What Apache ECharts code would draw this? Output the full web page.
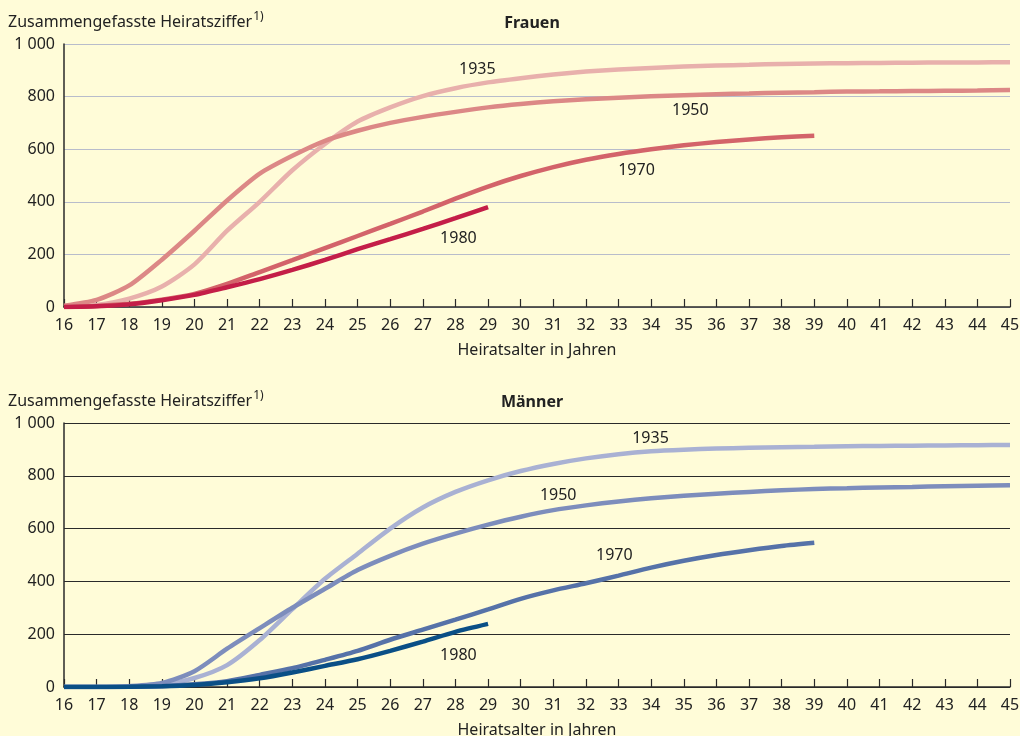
<!DOCTYPE html>
<html>
<head>
<meta charset="utf-8">
<script src="https://cdn.jsdelivr.net/npm/echarts@6/dist/echarts.min.js"></script>
<style>
html,body{margin:0;padding:0;background:#fffcd8;}
#chart{width:1020px;height:736px;}
</style>
</head>
<body>
<div id="chart"></div>
<script>
// ---- data ----
const ages = [16,17,18,19,20,21,22,23,24,25,26,27,28,29,30,31,32,33,34,35,36,37,38,39,40,41,42,43,44,45];
const yTicks = [0,200,400,600,800,1000];
const cohorts = ['1935','1950','1970','1980'];

const frauen1935 = [0,8,32,78,162,290,400,520,620,705,759,802,832,854,870,884,895,903,909,914,918,921,924,926,927,928,929,930,930,931];
const frauen1950 = [5,27,82,180,290,405,507,575,632,670,700,723,742,759,772,782,790,796,801,805,809,812,815,817,819,820,821,822,823,825];
const frauen1970 = [0,4,12,28,50,88,133,178,224,270,316,363,412,458,498,532,560,582,600,615,627,637,645,651];
const frauen1980 = [0,3,10,26,46,75,106,141,179,220,258,297,338,380];

const maenner1935 = [0,0,1,8,34,83,178,295,410,505,600,680,739,783,818,845,866,882,893,899,903,906,908,910,912,913,914,915,916,917];
const maenner1950 = [0,0,3,15,60,145,223,300,372,443,497,543,581,615,645,670,688,703,715,724,732,739,745,750,753,756,758,760,762,764];
const maenner1970 = [0,0,1,3,10,22,46,71,103,137,179,217,255,294,334,366,393,422,452,478,500,518,534,546];
const maenner1980 = [0,0,1,3,8,18,33,55,80,105,137,172,209,239];

// ---- chart ----
const FONT = 'Noto Sans';
const pairs = arr => arr.map((v,i)=>[ages[i], v]);

function mkLine(name, arr, color, gi, labelCoord){
  return {
    type:'line', name:name, xAxisIndex:gi, yAxisIndex:gi,
    data:pairs(arr), showSymbol:false, symbol:'none', smooth:0.25,
    lineStyle:{color:color, width:4.5, cap:'butt'},
    animation:false, silent:true,
    markPoint:{
      symbol:'circle', symbolSize:0, silent:true, animation:false,
      label:{show:true, position:'inside', formatter:name, color:'#222', fontSize:16, fontFamily:FONT},
      data:[{coord:labelCoord}]
    }
  };
}

function mkX(gi){
  return {
    type:'value', gridIndex:gi, min:16, max:45, interval:1,
    axisLine:{show:true, lineStyle:{color:'#2a2a2a', width:1.5}},
    axisTick:{show:true, inside:true, length:8, lineStyle:{color:'#2a2a2a', width:1.2}},
    axisLabel:{color:'#222', fontSize:16, fontFamily:FONT, margin:10},
    splitLine:{show:false},
    name:'Heiratsalter in Jahren', nameLocation:'middle', nameGap:35,
    nameTextStyle:{color:'#222', fontSize:16, fontFamily:FONT}
  };
}
function mkY(gi, gridColor){
  return {
    type:'value', gridIndex:gi, min:0, max:1000, interval:200,
    axisLine:{show:true, lineStyle:{color:'#2a2a2a', width:1.5}},
    axisTick:{show:false},
    axisLabel:{color:'#222', fontSize:16, fontFamily:FONT, margin:9,
      formatter:v => v>=1000 ? String(v).replace(/\B(?=(\d{3})+(?!\d))/g,' ') : String(v)},
    splitLine:{show:true, lineStyle:{color:gridColor, width:1}}
  };
}

const yName = {
  text:'{a|Zusammengefasste Heiratsziffer}{b|1)}',
  rich:{a:{fontSize:16, fontFamily:FONT, fill:'#222', verticalAlign:'bottom'},
        b:{fontSize:12, fontFamily:FONT, fill:'#222', verticalAlign:'top', padding:[0,0,7,1]}}
};

const chart = echarts.init(document.getElementById('chart'), null, {renderer:'canvas'});
chart.setOption({
  backgroundColor:'#fffcd8',
  animation:false,
  title:[
    {text:'Frauen', left:527, top:10, textAlign:'center', textStyle:{fontSize:16, fontWeight:'bold', color:'#222', fontFamily:FONT}},
    {text:'Männer', left:527, top:389, textAlign:'center', textStyle:{fontSize:16, fontWeight:'bold', color:'#222', fontFamily:FONT}}
  ],
  graphic:[
    {type:'text', left:8, top:11, style:yName},
    {type:'text', left:8, top:390, style:yName}
  ],
  grid:[
    {left:64, right:10, top:44, height:263, containLabel:false, outerBoundsMode:'none'},
    {left:64, right:10, top:423, height:264, containLabel:false, outerBoundsMode:'none'}
  ],
  xAxis:[mkX(0), mkX(1)],
  yAxis:[mkY(0,'#b8bccb'), mkY(1,'#2a2a2a')],
  series:[
    mkLine(cohorts[0], frauen1935, '#e8b0ac', 0, [28.67, 902]),
    mkLine(cohorts[1], frauen1950, '#dc8886', 0, [35.2, 747]),
    mkLine(cohorts[2], frauen1970, '#d3636a', 0, [33.55, 520]),
    mkLine(cohorts[3], frauen1980, '#c41e48', 0, [28.09, 261]),
    mkLine(cohorts[0], maenner1935, '#a9b1d3', 1, [33.98, 943]),
    mkLine(cohorts[1], maenner1950, '#7d8dbc', 1, [31.15, 727]),
    mkLine(cohorts[2], maenner1970, '#5672a8', 1, [32.87, 500]),
    mkLine(cohorts[3], maenner1980, '#0a4f86', 1, [28.09, 121])
  ]
});
</script>
</body>
</html>
